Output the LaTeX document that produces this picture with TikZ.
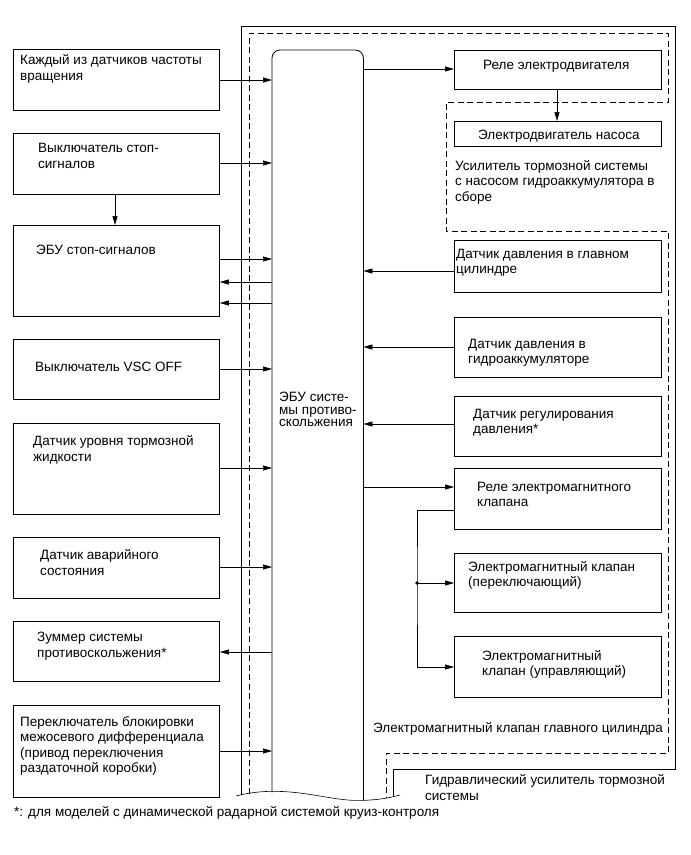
\documentclass[tikz,border=0pt]{standalone}
\usepackage{fontspec}
\setmainfont{Liberation Sans}
\usetikzlibrary{arrows.meta,positioning}
\tikzset{
  blk/.style={draw, line width=0.8pt, anchor=north west, inner sep=0pt,
    minimum width=206pt},
  % base = baseline of the last line
  txt/.style={anchor=base west, align=left, inner sep=0pt,
    font=\fontsize{13.5}{15.5}\selectfont},
  ecutxt/.style={txt, font=\fontsize{13.5}{12.5}\selectfont},
  arr/.style={-{Triangle[length=9pt,width=5pt]}, line width=0.6pt},
  frame/.style={line width=0.8pt},
  grp/.style={line width=0.8pt, dash pattern=on 6pt off 3.5pt},
  jdot/.style={circle, fill, inner sep=1.3pt}
}
\begin{document}
\begin{tikzpicture}[x=1pt, y=-1pt]
  \useasboundingbox (0,0) rectangle (691,855);
  % frames
  \draw[frame] (241,795) -- (241,26) -- (675,26) -- (675,769) -- (393,769) -- (393,797);
  \draw[grp] (249,794) -- (249,33) -- (668,33) -- (668,102) -- (446,102) -- (446,231)
    -- (668,231) -- (668,753) -- (386,753) -- (386,798);
  % ECU
  \node[anchor=north west, inner sep=0pt, minimum width=91pt, minimum height=742pt] (ecu) at (272,50) {};
  \draw[frame, rounded corners=8pt] (ecu.south west) -- (ecu.north west) -- (ecu.north east) -- (ecu.east |- 0,800);
  \node[ecutxt] (ecu-t) at (279,426.5) {ЭБУ систе-\\мы противо-\\скольжения};
  \draw[line width=0.6pt] (236,796) .. controls (255,791) and (275,790) .. (300,793)
    .. controls (330,797) and (345,802) .. (370,800) .. controls (385,799) and (392,797) .. (400,795);
  % left column
  \node[blk, minimum height=61pt] (spd) at (13,49) {};
  \node[txt] (spd-t) at (20,80) {Каждый из датчиков частоты\\вращения};
  \node[blk, minimum height=61pt] (stsw) at (13,133) {};
  \node[txt] (stsw-t) at (38,168) {Выключатель стоп-\\сигналов};
  \node[blk, minimum height=91pt] (stecu) at (13,225) {};
  \node[txt] (stecu-t) at (36,254.5) {ЭБУ стоп-сигналов};
  \node[blk, minimum height=60pt] (vsc) at (13,339) {};
  \node[txt] (vsc-t) at (35,371) {Выключатель VSC OFF};
  \node[blk, minimum height=91pt] (lvl) at (13,423) {};
  \node[txt] (lvl-t) at (33,461) {Датчик уровня тормозной\\жидкости};
  \node[blk, minimum height=61pt] (emg) at (13,537) {};
  \node[txt] (emg-t) at (40,575) {Датчик аварийного\\состояния};
  \node[blk, minimum height=60pt] (buz) at (13,621) {};
  \node[txt] (buz-t) at (37,657) {Зуммер системы\\противоскольжения*};
  \node[blk, minimum height=92pt] (dif) at (13,705) {};
  \node[txt] (dif-t) at (20,772.5) {Переключатель блокировки\\межосевого дифференциала\\(привод переключения\\раздаточной коробки)};
  % right column
  \node[blk, minimum width=207pt, minimum height=39pt] (rly) at (454,50) {};
  \node[txt] (rly-t) at (483,69.5) {Реле электродвигателя};
  \node[blk, minimum width=207pt, minimum height=25pt] (mot) at (454,121) {};
  \node[txt] (mot-t) at (478,139.5) {Электродвигатель насоса};
  \node[txt] (amp-t) at (455,201) {Усилитель тормозной системы\\с насосом гидроаккумулятора в\\сборе};
  \node[blk, minimum width=207pt, minimum height=52pt] (pmc) at (454,240) {};
  \node[txt] (pmc-t) at (456,273.5) {Датчик давления в главном\\цилиндре};
  \node[blk, minimum width=207pt, minimum height=60pt] (pacc) at (454,317) {};
  \node[txt] (pacc-t) at (468,363.5) {Датчик давления в\\гидроаккумуляторе};
  \node[blk, minimum width=207pt, minimum height=60pt] (preg) at (454,396) {};
  \node[txt] (preg-t) at (473,433.5) {Датчик регулирования\\давления*};
  \node[blk, minimum width=207pt, minimum height=61pt] (srly) at (454,468) {};
  \node[txt] (srly-t) at (477,506.5) {Реле электромагнитного\\клапана};
  \node[blk, minimum width=207pt, minimum height=59pt] (sw) at (454,553) {};
  \node[txt] (sw-t) at (468,586.5) {Электромагнитный клапан\\(переключающий)};
  \node[blk, minimum width=207pt, minimum height=61pt] (ctl) at (454,636) {};
  \node[txt] (ctl-t) at (482,675.5) {Электромагнитный\\клапан (управляющий)};
  \node[txt] (mcv-t) at (373,732) {Электромагнитный клапан главного цилиндра};
  \node[txt] (hyd-t) at (425,800) {Гидравлический усилитель тормозной\\системы};
  \node[txt] (note) at (14,816) {*: для моделей с динамической радарной системой круиз-контроля};
  % connectors, left
  \draw[arr] (spd.east |- 0,80) -- (ecu.west |- 0,80);
  \draw[arr] (stsw.east |- 0,163) -- (ecu.west |- 0,163);
  \draw[arr] (stsw.south -| 115,0) -- (stecu.north -| 115,0);
  \draw[arr] (stecu.east |- 0,259) -- (ecu.west |- 0,259);
  \draw[arr] (ecu.west |- 0,282) -- (stecu.east |- 0,282);
  \draw[arr] (ecu.west |- 0,303) -- (stecu.east |- 0,303);
  \draw[arr] (vsc.east |- 0,369) -- (ecu.west |- 0,369);
  \draw[arr] (lvl.east |- 0,468) -- (ecu.west |- 0,468);
  \draw[arr] (emg.east |- 0,567) -- (ecu.west |- 0,567);
  \draw[arr] (ecu.west |- 0,652) -- (buz.east |- 0,652);
  \draw[arr] (dif.east |- 0,751) -- (ecu.west |- 0,751);
  % connectors, right
  \draw[arr] (ecu.east |- 0,69) -- (rly.west |- 0,69);
  \draw[arr] (rly.south -| 557,0) -- (mot.north -| 557,0);
  \draw[arr] (pmc.west |- 0,271) -- (ecu.east |- 0,271);
  \draw[arr] (pacc.west |- 0,347) -- (ecu.east |- 0,347);
  \draw[arr] (preg.west |- 0,424) -- (ecu.east |- 0,424);
  \draw[arr] (ecu.east |- 0,487) -- (srly.west |- 0,487);
  \coordinate (jn) at (417,583);
  \draw[arr] (srly.west |- 0,510) -| (jn) |- (ctl.west |- 0,667);
  \node[jdot] (jd) at (jn) {};
  \draw[arr] (jn) -- (sw.west |- jn);
\end{tikzpicture}
\end{document}
